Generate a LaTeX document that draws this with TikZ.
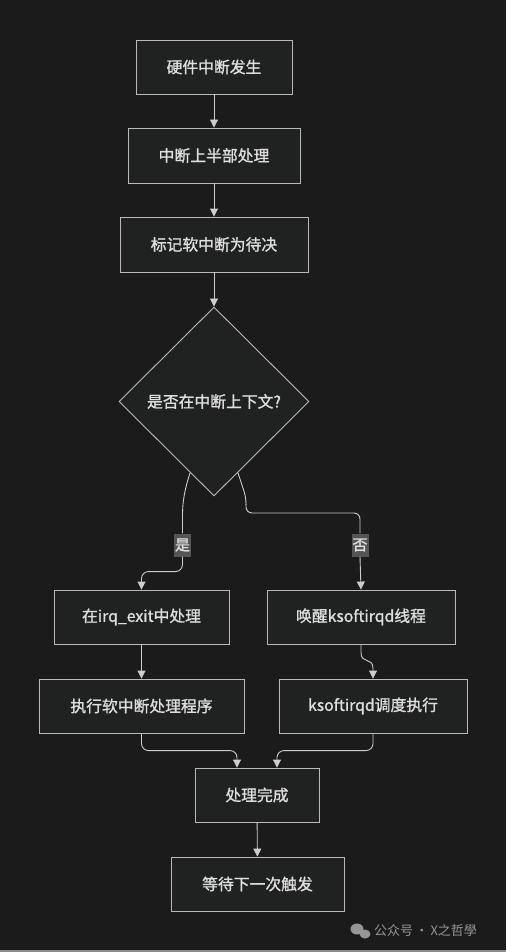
\documentclass[tikz,border=0pt]{standalone}
\usepackage{fontspec}
\newfontfamily\cjk[FakeBold=1.2]{Noto Sans CJK SC}
\newfontfamily\cjkwm{Noto Sans CJK SC}
\usetikzlibrary{shapes.geometric,arrows.meta,calc}
\definecolor{bg}{RGB}{27,27,27}
\definecolor{boxfill}{RGB}{32,33,33}
\definecolor{boxline}{RGB}{185,185,185}
\definecolor{txt}{RGB}{222,222,222}
\definecolor{edgec}{RGB}{205,205,205}
\definecolor{lblfill}{RGB}{85,85,85}
\definecolor{wm}{RGB}{150,150,150}
\begin{document}
\begin{tikzpicture}[x=1pt,y=-1pt,
  proc/.style={draw=boxline, fill=boxfill, line width=0.9pt, minimum height=54pt, text=txt,
    font=\cjk\fontsize{15.8}{18}\selectfont, inner sep=0pt},
  dec/.style={diamond, draw=boxline, fill=boxfill, line width=0.9pt, text=txt,
    font=\cjk\fontsize{15.8}{18}\selectfont, inner sep=0pt, minimum width=190pt, minimum height=189pt},
  lbl/.style={fill=lblfill, text=txt, font=\cjk\fontsize{15}{17}\selectfont, inner sep=1pt,
    minimum width=16pt, minimum height=23pt},
  conn/.style={draw=edgec, line width=0.9pt, -{Triangle[width=8pt,length=8pt]}},
  plain/.style={draw=edgec, line width=0.9pt}
]
\fill[bg] (0,0) rectangle (506,952);
\useasboundingbox (0,0) rectangle (506,952);
\fill[black!45] (0,950) rectangle (506,952);

\node[proc, minimum width=156pt] (b1) at (214,67) {硬件中断发生};
\node[proc, minimum width=172pt, minimum height=55pt] (b2) at (214,155.5) {中断上半部处理};
\node[proc, minimum width=188pt, minimum height=55pt] (b3) at (214,244.5) {标记软中断为待决};
\node[dec] (d) at (214,401.5) {是否在中断上下文?};
\node[proc, minimum width=175pt] (irq) at (141.5,617) {在irq\_exit中处理};
\node[proc, minimum width=188pt] (wake) at (361,617) {唤醒ksoftirqd线程};
\node[proc, minimum width=205pt] (exec) at (141.5,706) {执行软中断处理程序};
\node[proc, minimum width=188pt] (ks) at (373,706) {ksoftirqd调度执行};
\node[proc, minimum width=124pt] (done) at (257,795) {处理完成};
\node[proc, minimum width=173pt] (wait) at (257.5,884) {等待下一次触发};

\node[lbl] (yes) at (182.5,545) {是};
\node[lbl] (no) at (360,545) {否};

\coordinate (p1) at ($(d.south)!0.25!(d.west)$);
\coordinate (p2) at ($(d.south)!0.25!(d.east)$);

\draw[conn] (b1) -- (b2);
\draw[conn] (b2) -- (b3);
\draw[conn] (b3) -- (d);

% yes branch
\draw[plain] (p1) .. controls ($(p1)+(-6,18)$) and ($(yes.north)+(0,-30)$) .. ($(yes.north)+(0,-18)$) -- (yes.north);
\draw[conn, rounded corners=7pt] (yes.south) |- ($(irq.north)+(0,-18)$) -- (irq.north);
% no branch
\draw[plain] (p2) .. controls ($(p2)+(6,18)$) and (246,495) .. (246,505);
\draw[plain, rounded corners=6pt] (246,504) -- (246,513) -- (360,513) -- (no.north);
\draw[conn] (no.south) -- (wake.north);

\draw[conn] (irq) -- (exec);
\draw[conn] (wake.south) -- ++(0,8) .. controls ++(0,12) and ($(ks.north)+(0,-22)$) .. ($(ks.north)+(0,-10)$) -- (ks.north);
\draw[conn, rounded corners=7pt] (exec.south) |- ($(done.north)+(-20,-17)$) -- ($(done.north)+(-20,0)$);
\draw[conn, rounded corners=7pt] (ks.south) |- ($(done.north)+(20,-17)$) -- ($(done.north)+(20,0)$);
\draw[conn] (done) -- (wait);

% watermark
\fill[wm] (357,929) ellipse (6.5pt and 5.5pt);
\fill[wm] (365,934) ellipse (5.5pt and 4.5pt);
\node[text=wm, font=\cjkwm\fontsize{13}{15}\selectfont, anchor=west, inner sep=0pt] (wmt) at (374,931) {公众号\,·\,X之哲學};
\end{tikzpicture}
\end{document}
